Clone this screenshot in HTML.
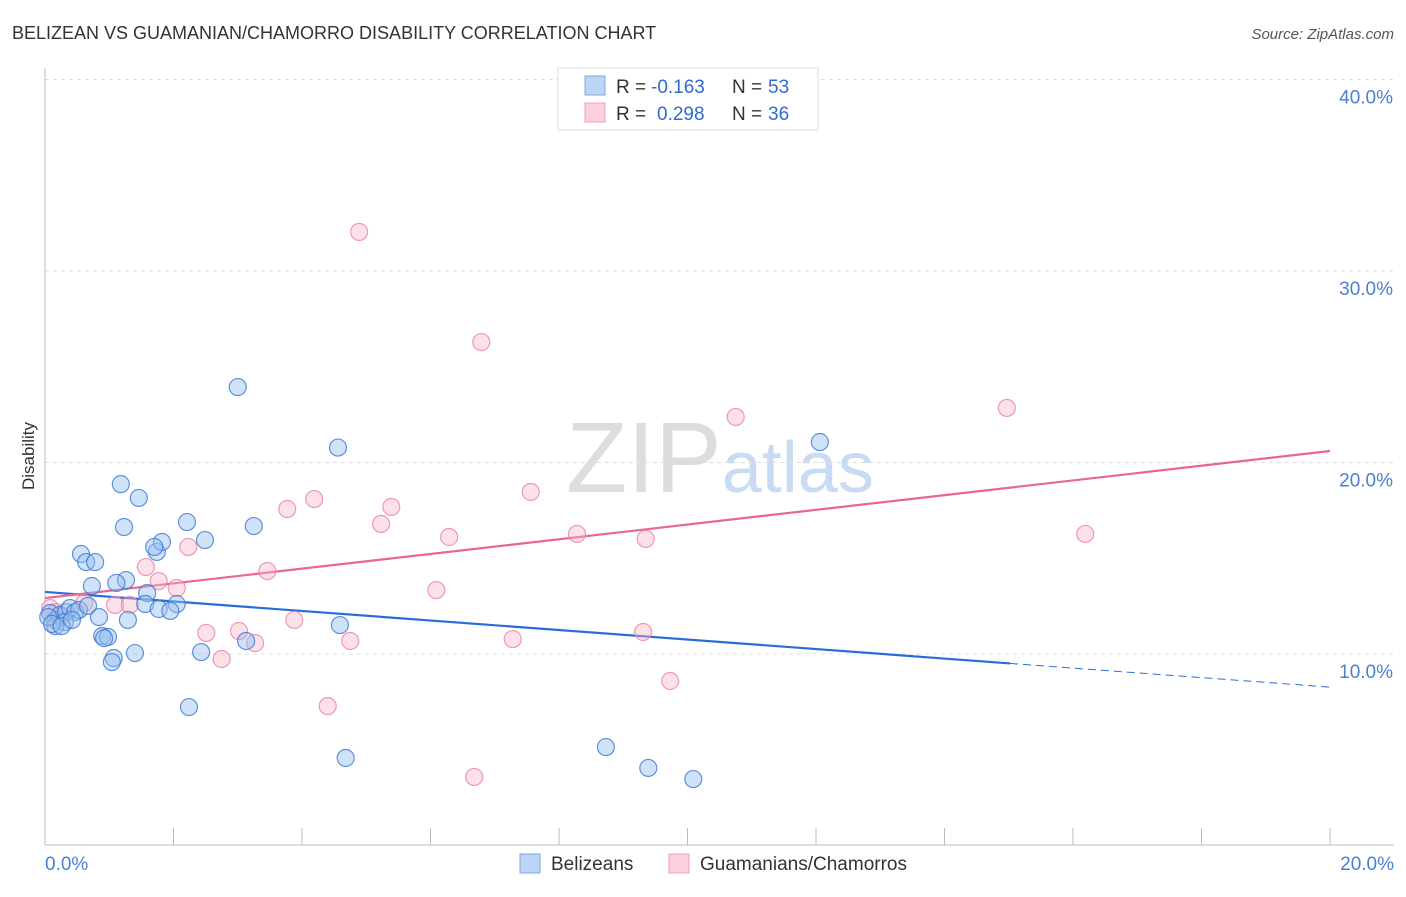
<!DOCTYPE html>
<html><head><meta charset="utf-8"><style>
body{margin:0;background:#fff;font-family:"Liberation Sans",sans-serif}
svg text{font-family:"Liberation Sans",sans-serif}
</style></head><body>
<svg id="chart" width="1406" height="892" xmlns="http://www.w3.org/2000/svg">
<text x="12" y="39" font-size="18" fill="#333">BELIZEAN VS GUAMANIAN/CHAMORRO DISABILITY CORRELATION CHART</text>
<text x="1394" y="39" font-size="15" fill="#555" text-anchor="end" font-style="italic">Source: ZipAtlas.com</text>
<text x="720" y="492" font-size="100" text-anchor="middle" fill="#ddd" font-family="Liberation Serif">ZIP<tspan fill="#c9daf3" font-family="Liberation Sans" font-size="72">atlas</tspan></text>
<g id="grid"></g>
<g id="axes"></g>
<g id="lines"></g>
<g id="pts"></g>
<text transform="translate(34,456) rotate(-90)" font-size="17" fill="#333" text-anchor="middle">Disability</text>
<g>
<rect x="558" y="68" width="260" height="62" fill="#fff" stroke="#ddd"/>
<rect x="585" y="76" width="20" height="19" fill="#bcd4f5" stroke="#7fa6e0"/>
<rect x="585" y="103" width="20" height="19" fill="#fbd0dc" stroke="#eea3bb"/>
<text x="616" y="93" font-size="19" fill="#333">R =</text>
<text x="651" y="93" font-size="19" fill="#2f6bd1">-0.163</text>
<text x="732" y="93" font-size="19" fill="#333">N =</text>
<text x="768" y="93" font-size="19" fill="#2f6bd1">53</text>
<text x="616" y="120" font-size="19" fill="#333">R =</text>
<text x="657" y="120" font-size="19" fill="#2f6bd1">0.298</text>
<text x="732" y="120" font-size="19" fill="#333">N =</text>
<text x="768" y="120" font-size="19" fill="#2f6bd1">36</text>
</g>
<g>
<rect x="520" y="854" width="20" height="19" fill="#bcd4f5" stroke="#7fa6e0"/>
<text x="551" y="870" font-size="19" fill="#333">Belizeans</text>
<rect x="669" y="854" width="20" height="19" fill="#fbd0dc" stroke="#eea3bb"/>
<text x="700" y="870" font-size="19" fill="#333">Guamanians/Chamorros</text>
</g>
</svg>
<script>
const blueX=[3.00,4.56,12.06,1.18,1.46,1.23,2.21,3.25,2.49,0.56,1.74,1.82,1.70,0.64,0.78,0.73,1.26,1.11,1.59,1.56,2.05,1.77,1.95,0.08,0.16,0.23,0.33,0.39,0.47,0.53,0.67,0.31,0.16,0.84,1.29,4.59,0.89,0.98,0.92,3.13,1.40,1.07,1.04,2.43,2.24,4.68,8.73,9.39,10.09,0.05,0.11,0.26,0.42];
const blueY=[23.94,20.78,21.07,18.87,18.15,16.63,16.89,16.68,15.95,15.22,15.33,15.85,15.59,14.80,14.80,13.55,13.86,13.71,13.18,12.61,12.61,12.35,12.25,12.14,11.78,12.04,12.19,12.40,12.19,12.30,12.51,11.67,11.46,11.93,11.78,11.51,10.94,10.89,10.83,10.68,10.05,9.79,9.58,10.10,7.23,4.57,5.14,4.05,3.47,11.93,11.57,11.46,11.78];
const pinkX=[4.89,6.79,10.75,14.97,4.19,5.39,7.56,3.77,5.23,6.29,8.28,9.35,16.19,2.23,1.57,3.46,1.77,2.05,6.09,0.61,1.09,1.32,0.08,0.17,3.88,2.51,3.02,9.31,7.28,3.27,4.75,2.75,9.73,4.40,6.68,0.26];
const pinkY=[32.04,26.29,22.38,22.85,18.09,17.68,18.46,17.57,16.79,16.11,16.27,16.01,16.27,15.59,14.54,14.33,13.81,13.45,13.34,12.66,12.56,12.56,12.40,12.19,11.78,11.10,11.20,11.15,10.78,10.57,10.68,9.74,8.59,7.28,3.58,11.98];
const blueTrend=[13.24,8.27];
const blueSolidEnd=15.02;
const pinkTrend=[12.92,20.6];
const yTicks=[10,20,30,40];
const yTickLabels=["10.0%","20.0%","30.0%","40.0%"];
const xTicks=[0,2,4,6,8,10,12,14,16,18,20];
const xs=v=>45+v*64.25, ys=v=>845.5-v*19.15;
const NS="http://www.w3.org/2000/svg";
function mk(p,t,a){const e=document.createElementNS(NS,t);for(const k in a)e.setAttribute(k,a[k]);document.getElementById(p).appendChild(e);return e;}
yTicks.forEach((t,i)=>{
 const l=mk('grid','line',{x1:45,x2:1394,y1:ys(t),y2:ys(t),stroke:'#ddd','stroke-dasharray':'4,4'});
 
 
 const tx=mk('grid','text',{x:1393,y:ys(t)+24,'font-size':19,fill:'#4a7fd6','text-anchor':'end'});
 tx.textContent=yTickLabels[i];
 
 
});
let a=mk('axes','line',{x1:45,x2:45,y1:68,y2:845,stroke:'#bbb'});


a=mk('axes','line',{x1:45,x2:1394,y1:845,y2:845,stroke:'#bbb'});


xTicks.forEach(t=>{const l=mk('axes','line',{x1:xs(t),x2:xs(t),y1:828,y2:845,stroke:'#bbb'});
 
 });
let t=mk('axes','text',{x:45,y:870,'font-size':19,fill:'#4a7fd6'});t.textContent="0.0%";


t=mk('axes','text',{x:1394,y:870,'font-size':19,fill:'#4a7fd6','text-anchor':'end'});t.textContent="20.0%";


function pts(X,Y,fill,stroke,name){X.forEach((x,i)=>{const c=mk('pts','circle',{cx:xs(x),cy:ys(Y[i]),r:8.5,fill:fill,stroke:stroke,'stroke-width':1.2});
 
 });}
pts(pinkX,pinkY,'rgba(247,180,200,0.4)','rgba(232,130,165,0.8)','pink-point');
pts(blueX,blueY,'rgba(150,190,240,0.45)','rgba(60,120,210,0.8)','blue-point');
const bt=x=>blueTrend[0]+(blueTrend[1]-blueTrend[0])*x/20;
let l=mk('lines','line',{x1:xs(0),y1:ys(bt(0)),x2:xs(blueSolidEnd),y2:ys(bt(blueSolidEnd)),stroke:'#2a6dd6','stroke-width':2.2});


l=mk('lines','line',{x1:xs(blueSolidEnd),y1:ys(bt(blueSolidEnd)),x2:xs(20),y2:ys(bt(20)),stroke:'#2a6dd6','stroke-width':1,'stroke-dasharray':'8,5'});


l=mk('lines','line',{x1:xs(0),y1:ys(pinkTrend[0]),x2:xs(20),y2:ys(pinkTrend[1]),stroke:'#e8649a','stroke-width':2.2});


</script>
</body></html>
